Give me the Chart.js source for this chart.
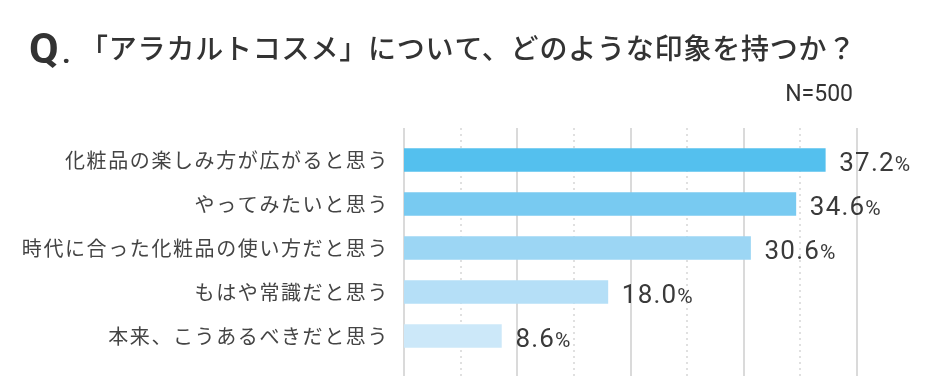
<!DOCTYPE html>
<html>
<head>
<meta charset="utf-8">
<script src="https://cdn.jsdelivr.net/npm/chart.js@4.4.1/dist/chart.umd.min.js"></script>
<style>
body{margin:0;background:#fff;}
#box{width:945px;height:385px;}
</style>
</head>
<body>
<div id="box"><canvas id="graf" width="945" height="385"></canvas></div>
<script>
var titolo="「アラカルトコスメ」について、どのような印象を持つか？";
var campione="N=500";
var categorie=["化粧品の楽しみ方が広がると思う","やってみたいと思う","時代に合った化粧品の使い方だと思う","もはや常識だと思う","本来、こうあるべきだと思う"];
var valori=[37.2,34.6,30.6,18.0,8.6];
var colori=["#54c0ee","#78caf1","#9cd6f4","#b5dff7","#cce8f9"];
var tacche=[0,5,10,15,20,25,30,35,40];

var jp="'Noto Sans CJK JP', 'Noto Sans', sans-serif";

// griglia verticale: piu lunga dell'area del grafico
var griglia={
    id:"griglia",
    beforeDatasetsDraw:function(chart){
        var ctx=chart.ctx;
        var sx=chart.scales.x;
        ctx.save();
        ctx.letterSpacing="0px";
        for(var i=0;i<tacche.length;i++){
            var x=Math.round(sx.getPixelForValue(tacche[i]));
            ctx.beginPath();
            if(tacche[i]%10==0){
                ctx.setLineDash([]);
                ctx.lineWidth=2;
                ctx.strokeStyle="#dadada";
            }else{
                ctx.setLineDash([2,4]);
                ctx.lineWidth=1.2;
                ctx.strokeStyle="#cccccc";
            }
            ctx.moveTo(x,128);
            ctx.lineTo(x,376);
            ctx.stroke();
        }
        ctx.restore();
    }
};

// spaziatura per le etichette a sinistra
var spazio={
    id:"spazio",
    beforeDraw:function(chart){ chart.ctx.letterSpacing="1.6px"; },
    beforeDatasetsDraw:function(chart){ chart.ctx.letterSpacing="0px"; }
};

// percentuali, titolo e N
var testi={
    id:"testi",
    afterDraw:function(chart){
        var ctx=chart.ctx;
        var meta=chart.getDatasetMeta(0);
        ctx.save();
        ctx.fillStyle="#3a3a3a";
        ctx.textBaseline="alphabetic";
        ctx.textAlign="left";
        ctx.letterSpacing="1.2px";
        for(var i=0;i<meta.data.length;i++){
            var b=meta.data[i];
            var s=valori[i].toFixed(1);
            var x=b.x+14;
            var y=b.y+11;
            ctx.font="400 26px Roboto";
            ctx.fillText(s,x,y);
            var w=ctx.measureText(s).width;
            ctx.font="400 21px Roboto";
            ctx.fillText("%",x+w,y);
        }
        ctx.letterSpacing="0px";
        ctx.fillStyle="#333333";
        ctx.font="700 43px Roboto";
        ctx.fillText("Q",29,63);
        ctx.font="700 30px Roboto";
        ctx.fillText(".",62,63);
        ctx.letterSpacing="0.8px";
        ctx.font="500 28px "+jp;
        ctx.fillText(titolo,80,59);
        ctx.letterSpacing="0px";
        ctx.textAlign="right";
        ctx.font="400 23px Roboto";
        ctx.fillText(campione,853,101);
        ctx.restore();
    }
};

var grafico=new Chart("graf",{
    type:"bar",
    data:{
        labels:categorie,
        datasets:[{
            data:valori,
            backgroundColor:colori,
            borderWidth:0,
            barThickness:23
        }]
    },
    options:{
        indexAxis:"y",
        responsive:false,
        animation:false,
        layout:{padding:{left:0,right:88,top:138,bottom:17}},
        plugins:{legend:{display:false},tooltip:{enabled:false},title:{display:false}},
        scales:{
            x:{
                display:false,
                min:0,
                max:40
            },
            y:{
                afterFit:function(scale){ scale.width=404; },
                grid:{display:false,drawTicks:false},
                border:{display:false},
                ticks:{
                    color:"#444444",
                    padding:15,
                    font:{family:jp,size:20,weight:"400"}
                }
            }
        }
    },
    plugins:[spazio,griglia,testi]
});
</script>
</body>
</html>
